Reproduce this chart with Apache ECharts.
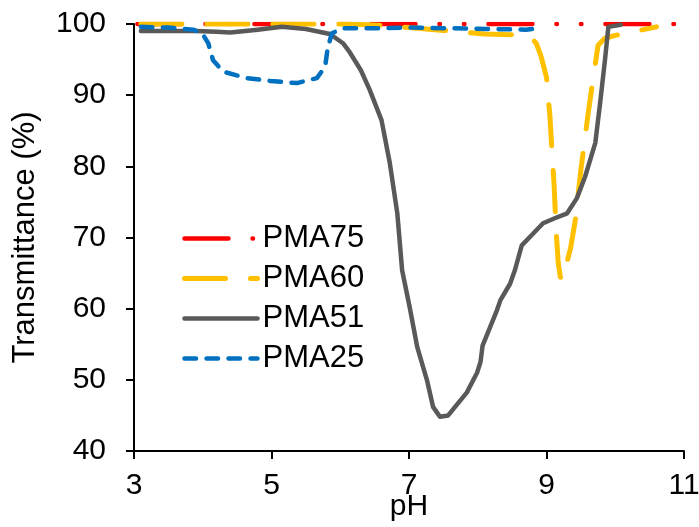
<!DOCTYPE html>
<html>
<head>
<meta charset="utf-8">
<script src="https://cdn.jsdelivr.net/npm/echarts@6/dist/echarts.min.js"></script>
<style>
html,body{margin:0;padding:0;background:#fff;overflow:hidden;}
#chart{width:699px;height:527px;}
</style>
</head>
<body>
<div id="chart"></div>
<script>
const seriesNames = ['PMA75', 'PMA60', 'PMA51', 'PMA25'];
const xTicks = [3, 5, 7, 9, 11];
const yTicks = [40, 50, 60, 70, 80, 90, 100];

const pma75 = [[3.05,100],[3.5,100],[4,100],[4.5,100],[5,100],[5.5,100],[6,100],[6.5,100],[7,100],[7.5,100],[8,100],[8.5,100],[9,100],[9.5,100],[10,100],[10.5,100],[11,100]];

const pma60 = [[3.1,100],[3.6,100],[4.1,100],[4.6,100],[5.1,100],[5.6,100],[6.1,100],[6.6,99.8],[7.0,99.5],[7.5,99.1],[8.1,98.6],[8.5,98.5],[8.75,98.3],[8.85,97.3],[8.92,95.5],[9.0,92.5],[9.05,87],[9.08,82],[9.11,77.5],[9.14,71],[9.17,66.5],[9.2,64.5],[9.23,64],[9.27,65.5],[9.35,68.5],[9.42,72.5],[9.5,79.5],[9.6,87],[9.68,92.5],[9.75,97],[9.85,98],[10.0,98.4],[10.3,99],[10.6,99.6]];

const pma51 = [[3.1,99],[3.5,99],[3.9,99],[4.2,98.9],[4.4,98.8],[4.8,99.2],[5.15,99.6],[5.5,99.3],[5.85,98.6],[6.04,97.3],[6.14,96],[6.3,93.5],[6.43,90.7],[6.6,86.5],[6.72,80.5],[6.83,73.4],[6.9,65.4],[7.01,60.2],[7.12,54.6],[7.26,50],[7.35,46.2],[7.45,44.8],[7.57,45.0],[7.67,46.2],[7.84,48.2],[7.99,51.0],[8.04,52.5],[8.07,54.8],[8.18,57.4],[8.28,59.8],[8.33,61.2],[8.47,63.5],[8.54,65.4],[8.64,68.9],[8.8,70.5],[8.95,72],[9.12,72.7],[9.3,73.4],[9.44,75.5],[9.56,78.5],[9.71,83.3],[9.78,88.9],[9.85,94.9],[9.9,99.6],[10.08,99.9]];

const pma25 = [[3.1,99.6],[3.5,99.5],[3.86,99.2],[3.99,98.7],[4.08,97.3],[4.15,94.9],[4.3,93.3],[4.64,92.4],[4.98,92.0],[5.37,91.7],[5.66,92.4],[5.78,94],[5.82,96.8],[5.88,98.7],[6.04,99.4],[6.5,99.4],[7.0,99.5],[7.6,99.4],[8.2,99.3],[8.7,99.2],[8.8,99.3]];

const FONT = '"Liberation Sans", Arial, sans-serif';
const chart = echarts.init(document.getElementById('chart'), null, {renderer: 'canvas'});

function mk(name, data, color, width, dash, z) {
  return {
    name: name, type: 'line', data: data, showSymbol: false, symbol: 'none',
    smooth: false, z: z, animation: false,
    lineStyle: {color: color, width: width, type: dash, cap: 'round', join: 'round'},
    itemStyle: {color: color}
  };
}

chart.setOption({
  animation: false,
  grid: {left: 134, right: 15, top: 24, bottom: 76, containLabel: false, outerBoundsMode: 'none'},
  legend: {
    orient: 'vertical', left: 182, top: 223, padding: 0,
    itemWidth: 73, itemHeight: 14, itemGap: 9,
    data: seriesNames,
    textStyle: {fontSize: 31, fontFamily: FONT, color: '#000'},
    lineStyle: {width: 'inherit'},
    itemStyle: {opacity: 0, color: 'rgba(0,0,0,0)', borderWidth: 0}
  },
  xAxis: {
    type: 'value', min: xTicks[0], max: xTicks[xTicks.length-1], interval: 2,
    name: 'pH', nameLocation: 'middle', nameGap: 41, nameMoveOverlap: false,
    nameTextStyle: {fontSize: 30, fontFamily: FONT, color: '#000'},
    axisLine: {show: true, lineStyle: {color: '#000', width: 2}},
    axisTick: {show: true, length: 8, lineStyle: {color: '#000', width: 2}},
    axisLabel: {fontSize: 30, fontFamily: FONT, color: '#000', margin: 20},
    splitLine: {show: false}
  },
  yAxis: {
    type: 'value', min: yTicks[0], max: yTicks[yTicks.length-1], interval: 10,
    name: 'Transmittance (%)', nameLocation: 'middle', nameGap: 93, nameRotate: 90,
    nameTextStyle: {fontSize: 31, fontFamily: FONT, color: '#000'},
    axisLine: {show: true, lineStyle: {color: '#000', width: 2}},
    axisTick: {show: true, length: 8, lineStyle: {color: '#000', width: 2}},
    axisLabel: {fontSize: 30, fontFamily: FONT, color: '#000', margin: 28},
    splitLine: {show: false}
  },
  series: [
    mk(seriesNames[0], pma75, '#FF0000', 4.5, [44, 24, 0.5, 24, 0.5, 24], 2),
    mk(seriesNames[1], pma60, '#FFC000', 5, [41, 25], 3),
    mk(seriesNames[2], pma51, '#595959', 4.5, 'solid', 4),
    mk(seriesNames[3], pma25, '#0070C0', 4.5, [11.5, 10.5], 5)
  ]
});
</script>
</body>
</html>
